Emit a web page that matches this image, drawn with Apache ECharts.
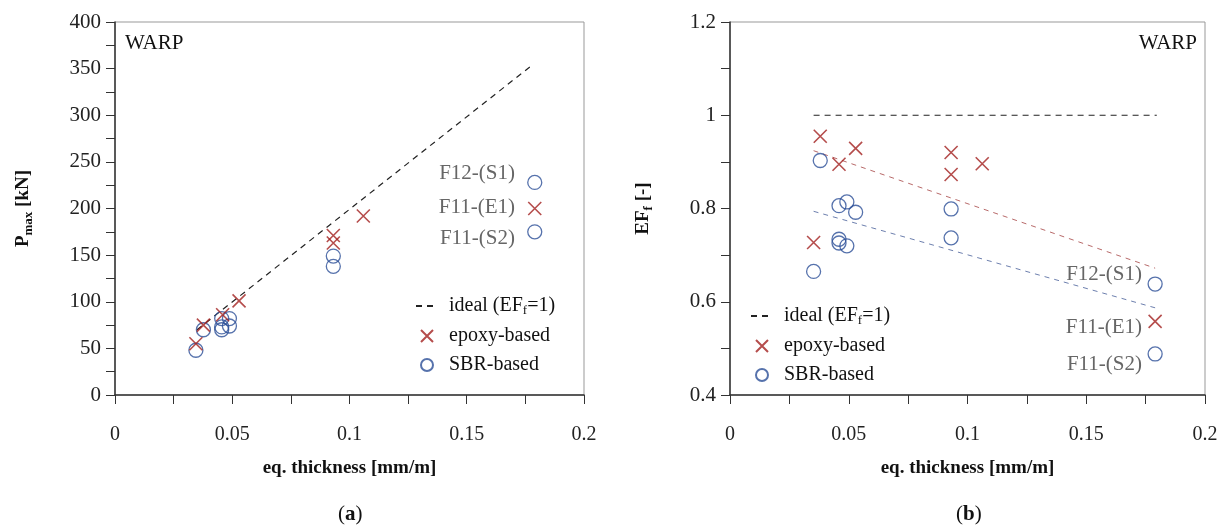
<!DOCTYPE html>
<html>
<head>
<meta charset="utf-8">
<script src="https://cdn.jsdelivr.net/npm/echarts@6/dist/echarts.min.js"></script>
<style>
  html, body { margin: 0; padding: 0; background: #fff; }
  #chart { width: 1227px; height: 531px; }
</style>
</head>
<body>
<div id="chart"></div>
<script>
// panel (a): Pmax vs eq. thickness
var thickAEpoxy = [0.0345, 0.0377, 0.0459, 0.0529, 0.0931, 0.0931, 0.1059, 0.179]
var pmaxEpoxy = [55, 75, 86, 101, 171, 163, 192, 200]
var thickASbr = [0.0345, 0.0377, 0.0455, 0.0488, 0.0455, 0.0488, 0.0455, 0.0931, 0.0931, 0.179, 0.179]
var pmaxSbr = [48, 70, 82, 82, 73, 74, 70, 149, 138, 228, 175]
var idealAX = [0.035, 0.178]
var idealAY = [70, 354]

// panel (b): EFf vs eq. thickness
var thickBEpoxy = [0.038, 0.0459, 0.0529, 0.0352, 0.0931, 0.0931, 0.1062, 0.179]
var efEpoxy = [0.955, 0.895, 0.929, 0.727, 0.92, 0.873, 0.896, 0.558]
var thickBSbr = [0.038, 0.0352, 0.0459, 0.0492, 0.0529, 0.0459, 0.0459, 0.0492, 0.0931, 0.0931, 0.179, 0.179]
var efSbr = [0.903, 0.665, 0.806, 0.814, 0.792, 0.734, 0.726, 0.72, 0.799, 0.737, 0.638, 0.488]
var idealBX = [0.0352, 0.1797]
var idealBY = [1, 1]
var trendEpoxyX = [0.0352, 0.179]
var trendEpoxyY = [0.924, 0.672]
var trendSbrX = [0.0352, 0.179]
var trendSbrY = [0.794, 0.587]

var font = 'Liberation Serif, Times New Roman, serif'
var red = '#a3201f'
var blue = '#2c4f97'
var crossPath = 'path://M0 0L10 10M10 0L0 10'

function zip(xs, ys) {
  return xs.map(function (x, i) { return [x, ys[i]] })
}

function xLabel(v) {
  var k = v / 0.05
  return Math.abs(k - Math.round(k)) < 1e-6 ? String(+v.toFixed(2)) : ''
}

function legendName(name) {
  if (name === 'ideal') return '{t|ideal (EF}{s|f}{t|=1)}'
  return '{t|' + name + '}'
}

var richName = {
  b: { fontFamily: font, fontWeight: 'bold', fontSize: 19, color: '#111', lineHeight: 24 },
  s: { fontFamily: font, fontWeight: 'bold', fontSize: 13, color: '#111', verticalAlign: 'bottom', padding: [9, 0, 0, 0], lineHeight: 24 }
}
var richLegend = {
  t: { fontFamily: font, fontSize: 20, color: '#111', lineHeight: 22 },
  s: { fontFamily: font, fontSize: 13, color: '#111', verticalAlign: 'bottom', padding: [8, 0, 0, 0], lineHeight: 22 }
}

function xAxis(idx) {
  return {
    type: 'value', gridIndex: idx, min: 0, max: 0.2, interval: 0.025,
    name: 'eq. thickness [mm/m]', nameLocation: 'middle', nameGap: 64,
    nameTextStyle: { fontFamily: font, fontWeight: 'bold', fontSize: 19, color: '#111' },
    axisLine: { lineStyle: { color: '#333', width: 1.5 } },
    axisTick: { show: true, length: 9, inside: false, lineStyle: { color: '#333' } },
    axisLabel: { formatter: xLabel, fontFamily: font, fontSize: 20, color: '#222', margin: 30 },
    splitLine: { show: false }
  }
}

var option = {
  backgroundColor: '#fff',
  animation: false,
  grid: [
    { left: 115, top: 22, width: 469, height: 373, show: true, borderColor: '#999', borderWidth: 1 },
    { left: 730, top: 22, width: 475, height: 373, show: true, borderColor: '#999', borderWidth: 1 }
  ],
  xAxis: [xAxis(0), xAxis(1)],
  yAxis: [
    {
      type: 'value', gridIndex: 0, min: 0, max: 400, interval: 25,
      name: '{b|P}{s|max}{b| [kN]}', nameLocation: 'middle', nameGap: 80,
      nameTextStyle: { rich: richName },
      axisLine: { show: true, lineStyle: { color: '#333', width: 1.5 } },
      axisTick: { show: true, length: 9, lineStyle: { color: '#333' } },
      axisLabel: {
        formatter: function (v) { return v % 50 === 0 ? String(v) : '' },
        fontFamily: font, fontSize: 21, color: '#222', margin: 14
      },
      splitLine: { show: false }
    },
    {
      type: 'value', gridIndex: 1, min: 0.4, max: 1.2, interval: 0.1,
      name: '{b|EF}{s|f}{b| [-]}', nameLocation: 'middle', nameGap: 75,
      nameTextStyle: { rich: richName },
      axisLine: { show: true, lineStyle: { color: '#333', width: 1.5 } },
      axisTick: { show: true, length: 9, lineStyle: { color: '#333' } },
      axisLabel: {
        formatter: function (v) {
          var k = Math.round(v * 10)
          return k % 2 === 0 ? String(+v.toFixed(1)) : ''
        },
        fontFamily: font, fontSize: 21, color: '#222', margin: 14
      },
      splitLine: { show: false }
    }
  ],
  legend: [
    {
      orient: 'vertical', left: 410, top: 291, itemGap: 9, itemWidth: 22, itemHeight: 12,
      data: ['ideal', 'epoxy-based', 'SBR-based'],
      formatter: legendName,
      textStyle: { rich: richLegend, padding: [0, 0, 0, 6] },
      selectedMode: false
    },
    {
      orient: 'vertical', left: 745, top: 301, itemGap: 9, itemWidth: 22, itemHeight: 12,
      data: ['ideal', 'epoxy-based', 'SBR-based'],
      formatter: legendName,
      textStyle: { rich: richLegend, padding: [0, 0, 0, 6] },
      selectedMode: false
    }
  ],
  graphic: [
    { type: 'text', left: 125, top: 33, style: { text: 'WARP', font: '21px ' + font, fill: '#111' } },
    { type: 'text', right: 30, top: 33, style: { text: 'WARP', font: '21px ' + font, fill: '#111' } },
    { type: 'text', right: 712, top: 163, style: { text: 'F12-(S1)', font: '21px ' + font, fill: '#666' } },
    { type: 'text', right: 712, top: 197, style: { text: 'F11-(E1)', font: '21px ' + font, fill: '#666' } },
    { type: 'text', right: 712, top: 228, style: { text: 'F11-(S2)', font: '21px ' + font, fill: '#666' } },
    { type: 'text', right: 85, top: 264, style: { text: 'F12-(S1)', font: '21px ' + font, fill: '#666' } },
    { type: 'text', right: 85, top: 317, style: { text: 'F11-(E1)', font: '21px ' + font, fill: '#666' } },
    { type: 'text', right: 85, top: 354, style: { text: 'F11-(S2)', font: '21px ' + font, fill: '#666' } },
    {
      type: 'text', left: 338, top: 504,
      style: { text: '({b|a})', font: '21px ' + font, fill: '#111', rich: { b: { fontFamily: font, fontSize: 21, fontWeight: 'bold', fill: '#111' } } }
    },
    {
      type: 'text', left: 956, top: 504,
      style: { text: '({b|b})', font: '21px ' + font, fill: '#111', rich: { b: { fontFamily: font, fontSize: 21, fontWeight: 'bold', fill: '#111' } } }
    }
  ],
  series: [
    {
      name: 'ideal', type: 'line', xAxisIndex: 0, yAxisIndex: 0, data: zip(idealAX, idealAY),
      symbol: 'none', itemStyle: { color: 'rgba(0,0,0,0)', borderWidth: 0 },
      lineStyle: { color: '#222', width: 1.2, type: [6, 5] }, z: 1
    },
    {
      name: 'epoxy-based', type: 'scatter', xAxisIndex: 0, yAxisIndex: 0, data: zip(thickAEpoxy, pmaxEpoxy),
      symbol: crossPath, symbolSize: 13,
      itemStyle: { color: 'rgba(0,0,0,0)', borderColor: red, borderWidth: 1.6 }, z: 3
    },
    {
      name: 'SBR-based', type: 'scatter', xAxisIndex: 0, yAxisIndex: 0, data: zip(thickASbr, pmaxSbr),
      symbol: 'circle', symbolSize: 14,
      itemStyle: { color: 'rgba(0,0,0,0)', borderColor: blue, borderWidth: 1.3 }, z: 2
    },
    {
      name: 'ideal', type: 'line', xAxisIndex: 1, yAxisIndex: 1, data: zip(idealBX, idealBY),
      symbol: 'none', itemStyle: { color: 'rgba(0,0,0,0)', borderWidth: 0 },
      lineStyle: { color: '#222', width: 1.2, type: [6, 5] }, z: 1
    },
    {
      name: 'trend epoxy', type: 'line', xAxisIndex: 1, yAxisIndex: 1, data: zip(trendEpoxyX, trendEpoxyY),
      symbol: 'none', lineStyle: { color: '#b86a6a', width: 1, type: [5, 5] }, z: 1
    },
    {
      name: 'trend SBR', type: 'line', xAxisIndex: 1, yAxisIndex: 1, data: zip(trendSbrX, trendSbrY),
      symbol: 'none', lineStyle: { color: '#6d7fae', width: 1, type: [5, 5] }, z: 1
    },
    {
      name: 'epoxy-based', type: 'scatter', xAxisIndex: 1, yAxisIndex: 1, data: zip(thickBEpoxy, efEpoxy),
      symbol: crossPath, symbolSize: 13,
      itemStyle: { color: 'rgba(0,0,0,0)', borderColor: red, borderWidth: 1.6 }, z: 3
    },
    {
      name: 'SBR-based', type: 'scatter', xAxisIndex: 1, yAxisIndex: 1, data: zip(thickBSbr, efSbr),
      symbol: 'circle', symbolSize: 14,
      itemStyle: { color: 'rgba(0,0,0,0)', borderColor: blue, borderWidth: 1.3 }, z: 2
    }
  ]
}

var chart = echarts.init(document.getElementById('chart'), null, { renderer: 'canvas' })
chart.setOption(option)
</script>
</body>
</html>
